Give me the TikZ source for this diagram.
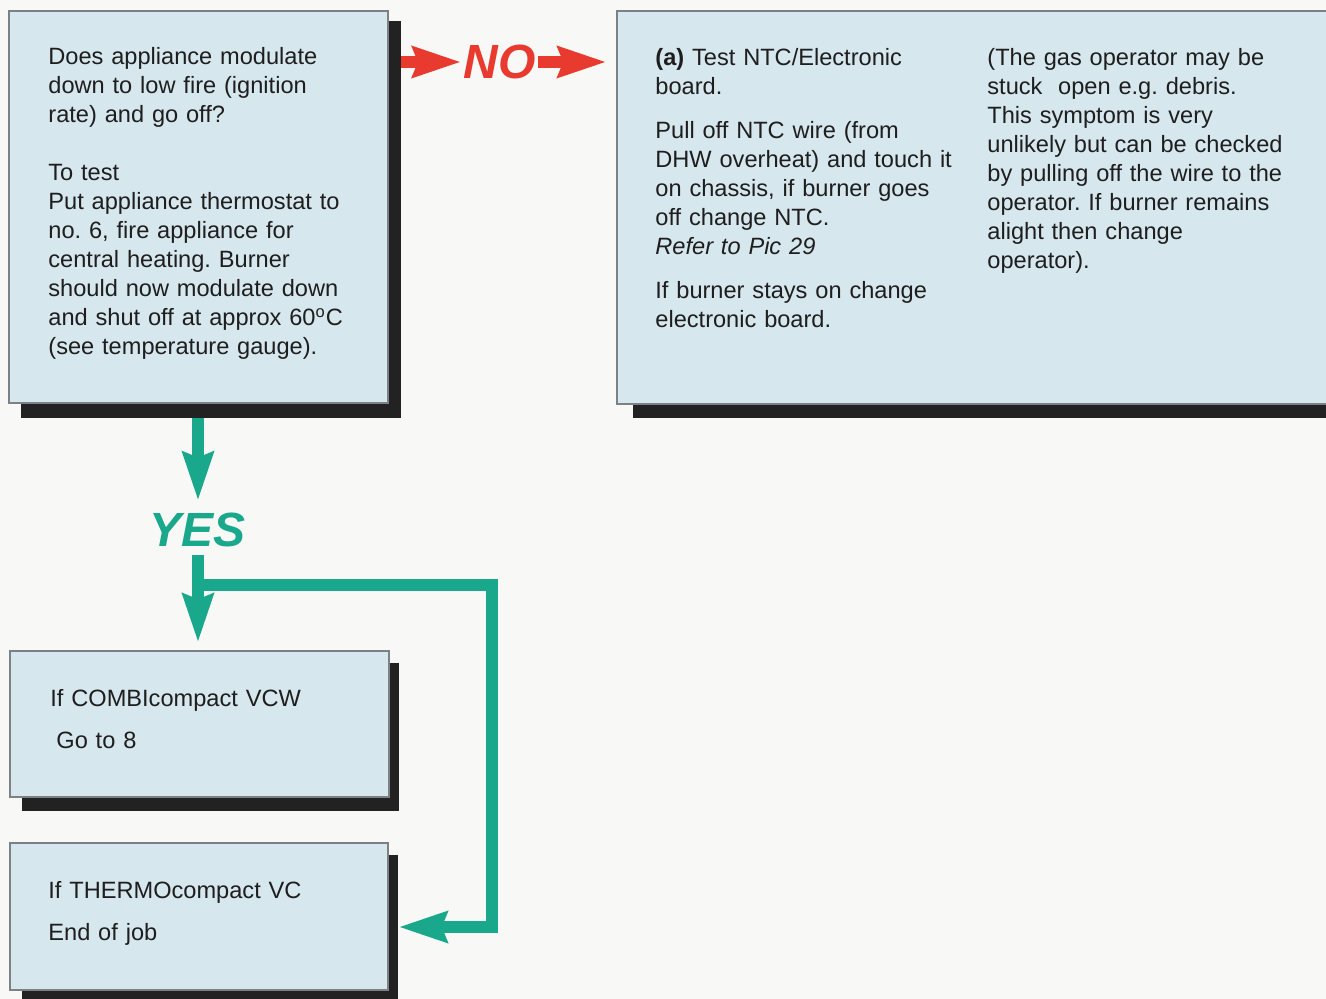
\documentclass[tikz,border=0pt]{standalone}
\usepackage{fontspec}
\setmainfont{Liberation Sans}
\usetikzlibrary{arrows.meta,calc}
\definecolor{boxfill}{RGB}{215,231,238}
\definecolor{boxline}{RGB}{125,128,132}
\definecolor{shade}{RGB}{34,34,34}
\definecolor{nored}{RGB}{232,58,46}
\definecolor{yesteal}{RGB}{26,168,140}
\definecolor{paper}{RGB}{248,248,246}
\definecolor{ink}{RGB}{30,30,30}
\begin{document}
\frenchspacing
\begin{tikzpicture}[x=0.5pt,y=-0.5pt,
  box/.style={draw=boxline, line width=0.6pt, fill=boxfill, inner sep=0pt},
  shadowbox/.style={fill=shade},
  txt/.style={anchor=base west, inner sep=0pt, align=left, text width=#1, text=ink,
              font=\fontsize{11.8}{14.5}\selectfont\frenchspacing},
  redarrow/.style={draw=nored, line width=6pt, -{Stealth[length=24pt,width=15pt,inset=2.5pt]}},
  tealline/.style={draw=yesteal, line width=6pt, line join=miter},
  tealarrow/.style={tealline, -{Stealth[length=24pt,width=15pt,inset=2.5pt]}},
  answer/.style={font=\fontsize{24}{24}\selectfont\bfseries\itshape, inner sep=1pt}
]
\useasboundingbox (0,0) rectangle (1326,999);
\clip (0,0) rectangle (1326,999);
\fill[paper] (0,0) rectangle (1326,999);

% shadows
\fill[shadowbox] (21,21) rectangle (401,418);
\fill[shadowbox] (633,22) rectangle (1340,418);
\fill[shadowbox] (22,663) rectangle (399,811);
\fill[shadowbox] (22,855) rectangle (398,1010);

% boxes
\node[box, minimum width=189.5pt, minimum height=196pt] (b1) at (198.5,207) {};
\node[box, minimum width=361.5pt, minimum height=196.5pt] (b2) at (978.5,207.5) {};
\node[box, minimum width=189.5pt, minimum height=73pt] (b3) at (199.5,724) {};
\node[box, minimum width=189pt, minimum height=73.5pt] (b4) at (199,916.5) {};

% texts
\node[txt=170pt] (t1) at (48,65) {Does appliance modulate\\down to low fire (ignition\\rate) and go off?\\[14.5pt]To test\\Put appliance thermostat to\\no. 6, fire appliance for\\central heating. Burner\\should now modulate down\\and shut off at approx 60\textsuperscript{o}C\\(see temperature gauge).};

\node[txt=165pt] (t2a) at (655,66) {\textbf{(a)} Test NTC/Electronic\\board.\\[7.5pt]Pull off NTC wire (from\\DHW overheat) and touch it\\on chassis, if burner goes\\off change NTC.\\\textit{Refer to Pic 29}\\[7.5pt]If burner stays on change\\electronic board.};

\node[txt=165pt] (t2b) at (987,66) {(The gas operator may be\\stuck~ open e.g. debris.\\This symptom is very\\unlikely but can be checked\\by pulling off the wire to the\\operator. If burner remains\\alight then change\\operator).};

\node[txt=150pt] (t3) at (50,706) {If COMBIcompact VCW\\[6.5pt]\hspace*{3pt}Go to 8};
\node[txt=150pt] (t4) at (48,898) {If THERMOcompact VC\\[6.5pt]End of job};

% NO connector
\node[answer, text=nored] (no) at (499.5,62) {NO};
\coordinate (noStart) at (401,62);
\draw[redarrow] (noStart) -- (no.west);
\draw[redarrow, shorten >=5pt] (no.east) -- (no.east -| b2.west);

% YES connectors
\node[answer, text=yesteal] (yes) at (197.5,530) {YES};
\coordinate (yesStart) at (198,418);
\draw[tealarrow, shorten >=5pt] (yesStart) -- (yesStart |- yes.north);
\draw[tealarrow, shorten <=3pt, shorten >=4pt] (yes.south -| yesStart) -- (yesStart |- b3.north);
\coordinate (split) at (198,585);
\coordinate (bendA) at (492,585);
\coordinate (bendB) at (492,927);
\coordinate (b4in) at ($(b4.east)+(10,10.5)$);
\draw[tealarrow] (split) -- (bendA) -- (bendB) -- (b4in);
\end{tikzpicture}
\end{document}
